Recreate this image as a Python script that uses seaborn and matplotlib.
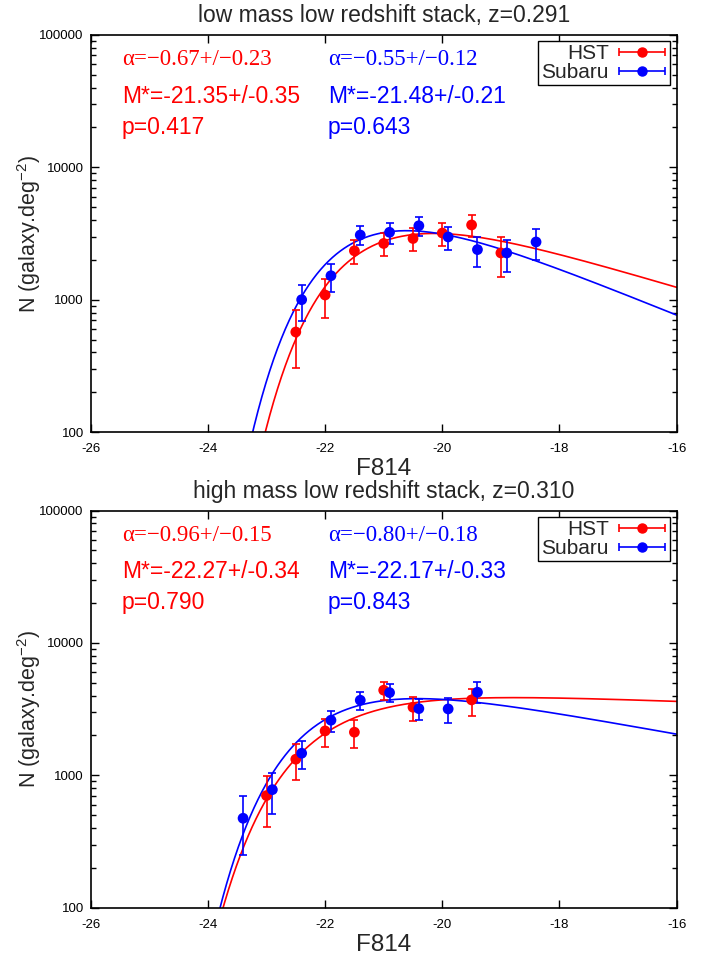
import matplotlib
matplotlib.use("Agg")
import numpy as np
import pandas as pd
import seaborn as sns
import matplotlib.pyplot as plt
from matplotlib.legend_handler import HandlerErrorbar
from matplotlib.container import ErrorbarContainer

# ---------------- data ----------------
# top panel: low mass low redshift stack
top_hst_mag = [-22.5, -22.0, -21.5, -21.0, -20.5, -20.0, -19.5, -19.0]
top_hst_n = [570, 1085, 2340, 2660, 2900, 3190, 3670, 2255]
top_hst_hi = [840, 1440, 2830, 3170, 3460, 3800, 4390, 3000]
top_hst_lo = [307, 728, 1860, 2120, 2320, 2560, 3000, 1490]

top_sub_mag = [-22.4, -21.9, -21.4, -20.9, -20.4, -19.9, -19.4, -18.9, -18.4]
top_sub_n = [1000, 1517, 3080, 3230, 3620, 2980, 2390, 2255, 2730]
top_sub_hi = [1300, 1870, 3620, 3780, 4220, 3550, 2960, 2840, 3440]
top_sub_lo = [690, 1140, 2570, 2650, 3050, 2380, 1775, 1630, 1980]

# bottom panel: high mass low redshift stack
bot_hst_mag = [-23.0, -22.5, -22.0, -21.5, -21.0, -20.5, -19.5]
bot_hst_n = [703, 1324, 2166, 2118, 4398, 3270, 3715]
bot_hst_hi = [990, 1718, 2669, 2636, 5054, 3914, 4522]
bot_hst_lo = [409, 928, 1648, 1620, 3715, 2591, 2826]

bot_sub_mag = [-23.4, -22.9, -22.4, -21.9, -21.4, -20.9, -20.4, -19.9, -19.4]
bot_sub_n = [474, 780, 1469, 2609, 3695, 4217, 3192, 3176, 4246]
bot_sub_hi = [695, 1048, 1829, 3083, 4270, 4882, 3802, 3866, 5054]
bot_sub_lo = [252, 511, 1124, 2128, 3121, 3606, 2609, 2500, 3508]

# Schechter fit parameters (alpha, M*, amplitude) : [HST, Subaru]
top_alpha = [-0.67, -0.55]
top_mstar = [-21.35, -21.48]
top_amp = [6350, 7460]
bot_alpha = [-0.96, -0.80]
bot_mstar = [-22.27, -22.17]
bot_amp = [4575, 6400]

titles = ["low mass low redshift stack, z=0.291",
          "high mass low redshift stack, z=0.310"]
top_labels = [["α=−0.67+/−0.23", "M*=-21.35+/-0.35", "p=0.417"],
              ["α=−0.55+/−0.12", "M*=-21.48+/-0.21", "p=0.643"]]
bot_labels = [["α=−0.96+/−0.15", "M*=-22.27+/-0.34", "p=0.790"],
              ["α=−0.80+/−0.18", "M*=-22.17+/-0.33", "p=0.843"]]
series_names = ["HST", "Subaru"]
colors = ["#ff0000", "#0000ff"]
xticks = [-26, -24, -22, -20, -18, -16]
yticks = [100, 1000, 10000, 100000]

# ---------------- style ----------------
sns.set_theme(style="ticks")
plt.rcParams["font.family"] = ["Liberation Sans", "DejaVu Sans"]
plt.rcParams["axes.unicode_minus"] = False
plt.rcParams["mathtext.fontset"] = "custom"
plt.rcParams["mathtext.rm"] = "Liberation Sans"

fig = plt.figure(figsize=(7.12, 9.58), dpi=100)
ax_top = fig.add_axes([0.1274, 0.549, 0.823, 0.4145])
ax_bot = fig.add_axes([0.1274, 0.0525, 0.823, 0.4145])


def schechter(m, alpha, mstar, amp):
    x = 10 ** (0.4 * (mstar - m))
    return amp * x ** (alpha + 1) * np.exp(-x)


def draw_panel(ax, mags, ns, his, los, alphas, mstars, amps, labels, title):
    ax.set_yscale("log")
    grid = np.linspace(-26, -16, 600)
    for i in range(2):
        curve = schechter(grid, alphas[i], mstars[i], amps[i])
        keep = curve > 20
        df_c = pd.DataFrame({"m": grid[keep], "n": curve[keep]})
        sns.lineplot(data=df_c, x="m", y="n", ax=ax, color=colors[i],
                     lw=1.2, zorder=2, legend=False)
    for i in range(2):
        m = np.array(mags[i]); n = np.array(ns[i])
        hi = np.array(his[i]); lo = np.array(los[i])
        ax.errorbar(m, n, yerr=[n - lo, hi - n], fmt="none",
                    ecolor=colors[i], elinewidth=1.2, capsize=3,
                    capthick=1.2, zorder=3)
        df_p = pd.DataFrame({"m": m, "n": n})
        sns.scatterplot(data=df_p, x="m", y="n", ax=ax, color=colors[i],
                        s=60, edgecolor="none", zorder=4, legend=False)
    ax.set_xlim(-26, -16)
    ax.set_ylim(100, 100000)
    ax.set_xticks(xticks)
    ax.set_xticklabels([str(t) for t in xticks])
    ax.set_yticks(yticks)
    ax.set_yticklabels([str(t) for t in yticks])
    ax.tick_params(axis="both", which="both", direction="in", top=True,
                   right=True, labelsize=9.5, colors="black")
    ax.tick_params(axis="x", which="major", pad=8)
    ax.tick_params(axis="y", which="major", pad=5)
    ax.tick_params(axis="both", which="major", length=6, width=1)
    ax.tick_params(axis="y", which="minor", length=3.5, width=1)
    ax.tick_params(axis="x", which="minor", bottom=False, top=False)
    for sp in ax.spines.values():
        sp.set_visible(True)
        sp.set_linewidth(1.2)
        sp.set_color("black")
    ax.set_xlabel("F814", fontsize=17.5, labelpad=2)
    ax.set_ylabel(r"N (galaxy.deg$^{\mathregular{-2}}$)", fontsize=15.5)
    ax.yaxis.set_label_coords(-0.082, 0.5)
    ax.set_title(title, fontsize=16.5, pad=9)
    # annotations
    xs = [0.0534, 0.405]
    ys = [0.937, 0.846, 0.768]
    for c in range(2):
        for r in range(3):
            fam = ["Liberation Serif", "DejaVu Serif"] if r == 0 else ["Liberation Sans", "DejaVu Sans"]
            ax.text(xs[c], ys[r], labels[c][r], transform=ax.transAxes,
                    color=colors[c], fontsize=16.5, family=fam,
                    ha="left", va="center")
    # legend with horizontal error bar samples
    handles = []
    for i in range(2):
        h = ax.errorbar([np.nan], [np.nan], xerr=[[1.0], [1.0]], fmt="o",
                        color=colors[i], ms=6.5, elinewidth=1.2, capsize=3,
                        capthick=1.2, label=series_names[i])
        handles.append(h)
    leg = ax.legend(handles=handles, labels=series_names, loc="upper right",
                    markerfirst=False, fontsize=15, frameon=True,
                    fancybox=False, edgecolor="black", framealpha=1,
                    borderaxespad=0.3, borderpad=0.15, labelspacing=0.0,
                    handlelength=2.4, handletextpad=0.4,
                    handler_map={ErrorbarContainer: HandlerErrorbar(xerr_size=1.1)})
    leg.get_frame().set_linewidth(1.0)


draw_panel(ax_top, [top_hst_mag, top_sub_mag], [top_hst_n, top_sub_n],
           [top_hst_hi, top_sub_hi], [top_hst_lo, top_sub_lo],
           top_alpha, top_mstar, top_amp, top_labels, titles[0])
draw_panel(ax_bot, [bot_hst_mag, bot_sub_mag], [bot_hst_n, bot_sub_n],
           [bot_hst_hi, bot_sub_hi], [bot_hst_lo, bot_sub_lo],
           bot_alpha, bot_mstar, bot_amp, bot_labels, titles[1])

fig.savefig("out.png", dpi=100)
